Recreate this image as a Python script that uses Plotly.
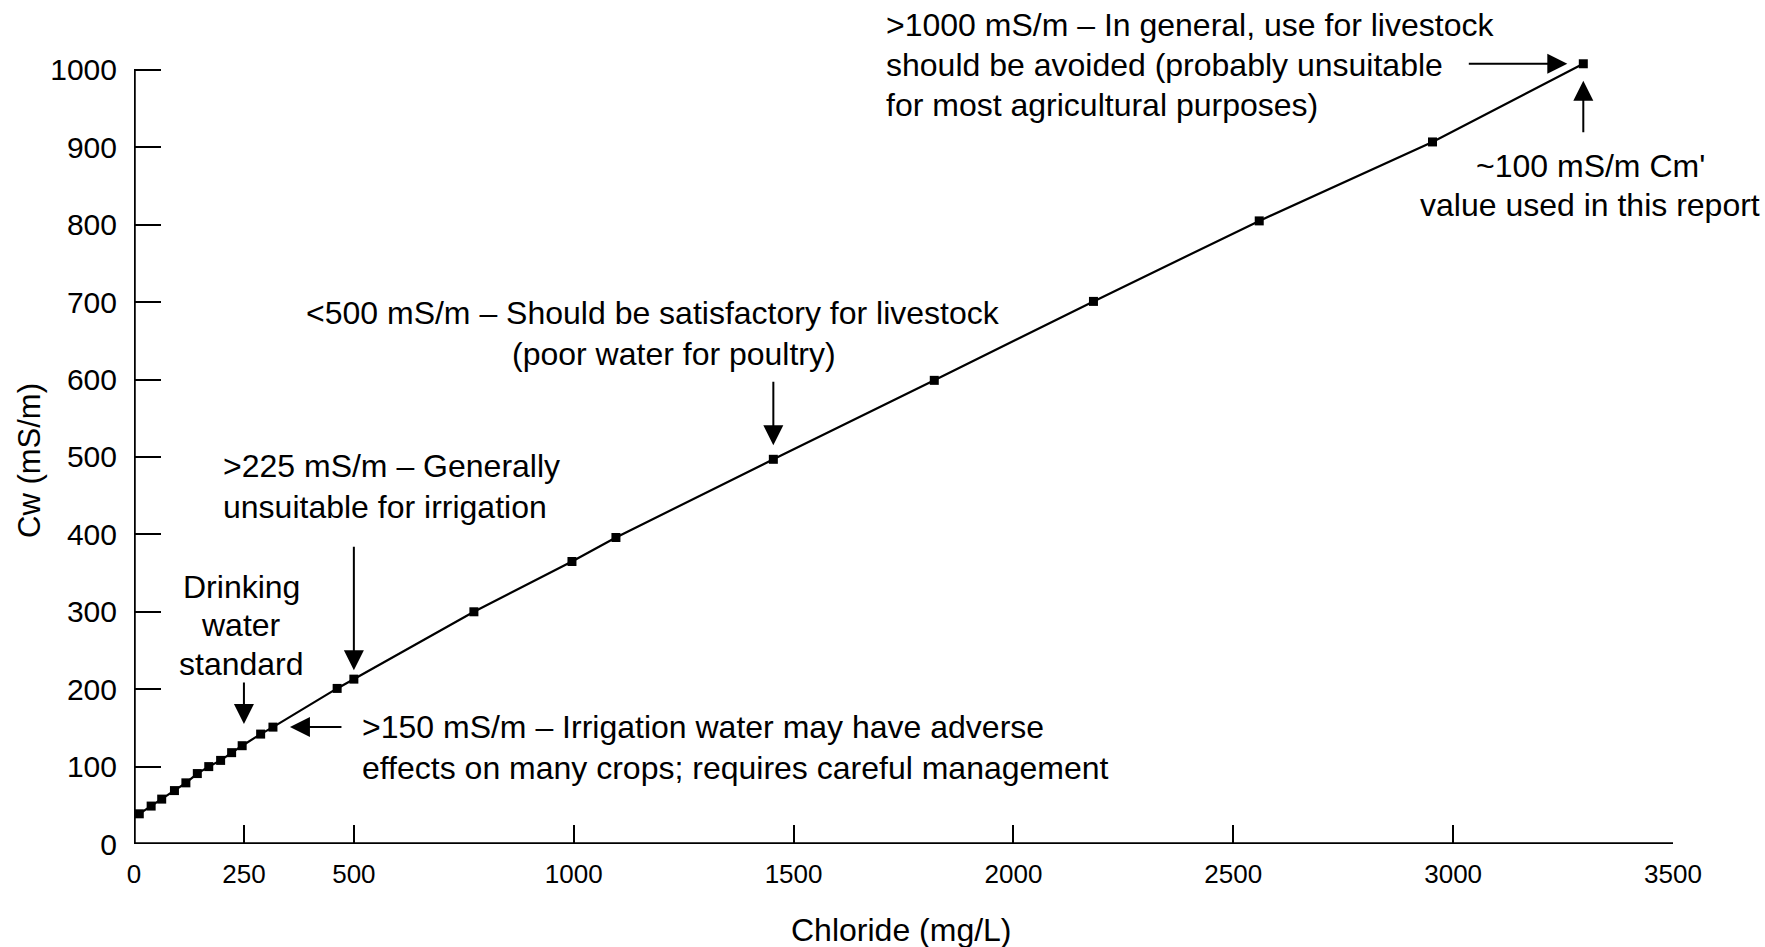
import plotly.graph_objects as go

# Data
chloride = [12, 39, 63, 92, 118, 144, 170, 197, 222, 246, 288, 316, 462, 500,
            773, 996, 1096, 1454, 1820, 2182, 2559, 2953, 3296]
cw = [39, 49, 58, 69, 79, 91, 100, 108, 118, 127, 142, 151, 201, 213,
      300, 365, 396, 497, 599, 701, 805, 907, 1008]
x_ticks = [0, 250, 500, 1000, 1500, 2000, 2500, 3000, 3500]
y_ticks = [0, 100, 200, 300, 400, 500, 600, 700, 800, 900, 1000]
x_title = "Chloride (mg/L)"
y_title = "Cw (mS/m)"

W, H = 1765, 947
YMAX = 1040
L, R, B = 134, 92, 103
T = 70 - round(774 * (YMAX - 1000) / 1000)
PW, PH = W - L - R, H - T - B

def px(x):
    return (x - L) / PW

def py(y):
    return (H - B - y) / PH

FONT = "Liberation Sans, Arial, Helvetica, sans-serif"
FS = 32

fig = go.Figure()
fig.add_trace(go.Scatter(
    x=chloride, y=cw, mode="lines+markers",
    line=dict(color="black", width=2.2),
    marker=dict(symbol="square", size=9, color="black"),
    cliponaxis=False, showlegend=False,
))

shapes = [
    dict(type="line", xref="x", yref="y", x0=0, x1=0, y0=0, y1=1000,
         line=dict(color="black", width=3.5)),
    dict(type="line", xref="x", yref="y", x0=0, x1=3500, y0=0, y1=0,
         line=dict(color="black", width=3.5)),
]

ann = []
def text(s, x, y, xanchor="left", size=FS, angle=0):
    ann.append(dict(text=s, xref="paper", yref="paper", x=px(x), y=py(y),
                    xanchor=xanchor, yanchor="middle", showarrow=False,
                    textangle=angle,
                    font=dict(family=FONT, size=size, color="black")))

def arrow(xv, yv, ax, ay, standoff):
    ann.append(dict(text="", xref="x", yref="y", x=xv, y=yv, ax=ax, ay=ay,
                    showarrow=True, arrowhead=2, arrowsize=2, arrowwidth=2,
                    arrowcolor="black", standoff=standoff))

text(">1000 mS/m \u2013 In general, use for livestock", 884, 25)
text("should be avoided (probably unsuitable", 884, 65)
text("for most agricultural purposes)", 884, 105)
text("~100 mS/m Cm'", 1590, 166, "center")
text("value used in this report", 1590, 205, "center")
text("<500 mS/m \u2013 Should be satisfactory for livestock", 653, 313, "center")
text("(poor water for poultry)", 674, 354, "center")
text(">225 mS/m \u2013 Generally", 221, 466)
text("unsuitable for irrigation", 221, 507)
text("Drinking", 241, 587, "center")
text("water", 241, 625, "center")
text("standard", 241, 664, "center")
text(">150 mS/m \u2013 Irrigation water may have adverse", 360, 727)
text("effects on many crops; requires careful management", 360, 768)
text(x_title, 901, 930, "center")
text(y_title, 30, 461, "center", size=31, angle=-90)

arrow(chloride[-1], cw[-1], -116, 0, 16)
arrow(chloride[-1], cw[-1], 0, 70, 17)
arrow(chloride[17], cw[17], 0, -79, 14)
arrow(chloride[13], cw[13], 0, -134, 9)
arrow(250, 155, 0, -43, 0)
arrow(chloride[11], cw[11], 70, 0, 17)

fig.update_layout(
    width=W, height=H,
    margin=dict(l=L, r=R, t=T, b=B, autoexpand=False),
    plot_bgcolor="white", paper_bgcolor="white",
    font=dict(family=FONT, size=FS, color="black"),
    shapes=shapes, annotations=ann,
    xaxis=dict(range=[0, 3500], tickvals=x_ticks, ticktext=[str(v) for v in x_ticks],
               showgrid=False, zeroline=False, showline=False, automargin=False,
               ticks="inside", ticklen=19, tickwidth=2, tickcolor="black",
               ticklabelstandoff=12,
               tickfont=dict(family=FONT, size=26)),
    yaxis=dict(range=[0, YMAX], tickvals=y_ticks,
               showgrid=False, zeroline=False, showline=False, automargin=False,
               ticks="inside", ticklen=27, tickwidth=2, tickcolor="black",
               ticklabelstandoff=16,
               tickfont=dict(family=FONT, size=30)),
)

fig.write_html("out.html")
